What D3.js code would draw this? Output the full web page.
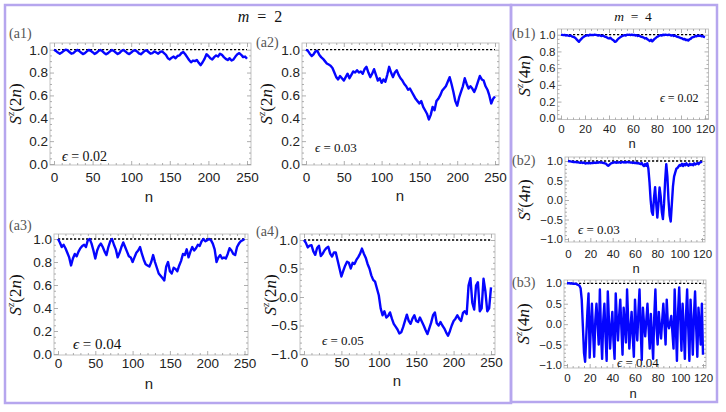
<!DOCTYPE html>
<html><head><meta charset="utf-8">
<script src="https://cdn.jsdelivr.net/npm/d3@7/dist/d3.min.js"></script>
<style>html,body{margin:0;padding:0;background:#fff;}svg{display:block;}</style>
</head><body>
<svg id="chart" width="726" height="412" xmlns="http://www.w3.org/2000/svg"></svg>
<script>
// ---------------- data ----------------
const nStepA = 2.5, nMaxA = 250;   // m = 2 panels: n sampled every 2.5
const nStepB = 1,   nMaxB = 120;   // m = 4 panels: integer n
const xTicksA = [0, 50, 100, 150, 200, 250];
const xTicksB = [0, 20, 40, 60, 80, 100, 120];
const yTicksUnit = [0, 0.2, 0.4, 0.6, 0.8, 1.0];
const yTicksSym = [-1, -0.5, 0, 0.5, 1];
const epsA = ['0.02', '0.03', '0.04', '0.05'];
const epsB = ['0.02', '0.03', '0.04'];
const titles = ['m', '2', '4'];

const a1Vals = [
 1.0, 0.99, 0.975, 0.965, 0.975, 0.99, 1.0, 0.995, 0.98, 0.965,
 0.97, 0.985, 0.998, 0.99, 0.975, 0.962, 0.97, 0.985, 0.998, 0.99,
 0.978, 0.963, 0.972, 0.988, 0.998, 0.988, 0.972, 0.96, 0.97, 0.985,
 0.997, 0.99, 0.975, 0.962, 0.972, 0.99, 0.997, 0.985, 0.97, 0.962,
 0.975, 0.99, 0.996, 0.985, 0.968, 0.96, 0.975, 0.99, 0.995, 0.98,
 0.965, 0.97, 0.985, 0.975, 0.965, 0.98, 0.985, 0.97, 0.955, 0.925,
 0.915, 0.93, 0.94, 0.925, 0.945, 0.95, 0.97, 0.98, 0.96, 0.935,
 0.91, 0.89, 0.905, 0.9, 0.91, 0.885, 0.865, 0.89, 0.92, 0.96,
 0.945, 0.925, 0.915, 0.935, 0.95, 0.94, 0.965, 0.955, 0.935, 0.92,
 0.91, 0.925, 0.905, 0.915, 0.94, 0.96, 0.97, 0.955, 0.935, 0.94,
 0.92];
const a2Vals = [
 1.0, 0.99, 0.965, 0.945, 0.96, 0.985, 0.99, 0.955, 0.935, 0.92,
 0.9, 0.88, 0.87, 0.86, 0.84, 0.8, 0.76, 0.74, 0.77, 0.75,
 0.73, 0.76, 0.79, 0.75, 0.78, 0.81, 0.8, 0.82, 0.8, 0.81,
 0.79, 0.83, 0.85, 0.8, 0.76, 0.79, 0.83, 0.78, 0.73, 0.75,
 0.71, 0.74, 0.72, 0.78, 0.85, 0.8, 0.76, 0.8, 0.82, 0.78,
 0.75, 0.73, 0.7, 0.68, 0.65, 0.66, 0.63, 0.6, 0.57, 0.55,
 0.53, 0.55, 0.5, 0.47, 0.44, 0.39, 0.43, 0.5, 0.47, 0.55,
 0.57, 0.6, 0.64, 0.66, 0.68, 0.72, 0.76, 0.7, 0.63, 0.55,
 0.51, 0.58, 0.63, 0.68, 0.75, 0.7, 0.66, 0.68, 0.66, 0.63,
 0.67, 0.72, 0.77, 0.74, 0.73, 0.68, 0.65, 0.6, 0.53, 0.57,
 0.59];
const a3Vals = [
 1.0, 0.97, 0.93, 0.95, 0.92, 0.88, 0.84, 0.77, 0.83, 0.87,
 0.85, 0.89, 0.92, 0.94, 0.95, 0.93, 0.99, 1.0, 0.96, 0.9,
 0.83, 0.9, 0.94, 0.96, 0.93, 0.89, 0.86, 0.93, 0.98, 1.0,
 0.95, 0.91, 0.84, 0.88, 0.93, 0.97, 0.93, 0.89, 0.85, 0.84,
 0.8, 0.84, 0.88, 0.9, 0.93, 0.87, 0.82, 0.78, 0.77, 0.76,
 0.8, 0.86, 0.8, 0.75, 0.7, 0.68, 0.66, 0.64, 0.76, 0.8,
 0.72, 0.7, 0.75, 0.74, 0.72, 0.77, 0.81, 0.87, 0.86, 0.91,
 0.84, 0.89, 0.93, 0.9, 0.92, 0.95, 0.94, 0.98, 1.0, 0.98,
 0.99, 1.0, 0.99, 0.96, 0.91, 0.8, 0.84, 0.86, 0.83, 0.84,
 0.83, 0.87, 0.92, 0.9, 0.87, 0.86, 0.93, 0.96, 0.98, 0.99,
 1.0];
const a4Vals = [
 1.0, 0.95, 0.87, 0.9, 0.91, 0.8, 0.74, 0.86, 0.9, 0.72,
 0.76, 0.82, 0.86, 0.88, 0.76, 0.71, 0.78, 0.78, 0.64, 0.5,
 0.36, 0.46, 0.55, 0.62, 0.6, 0.5, 0.6, 0.58, 0.65, 0.7,
 0.76, 0.85, 0.76, 0.69, 0.58, 0.5, 0.38, 0.3, 0.27, 0.15,
 0.03, -0.2, -0.32, -0.25, -0.36, -0.33, -0.27, -0.38, -0.47, -0.52,
 -0.57, -0.64, -0.62, -0.53, -0.42, -0.31, -0.42, -0.47, -0.38, -0.32,
 -0.42, -0.44, -0.36, -0.43, -0.5, -0.58, -0.65, -0.55, -0.45, -0.32,
 -0.27, -0.46, -0.5, -0.44, -0.5, -0.55, -0.62, -0.68, -0.6, -0.5,
 -0.42, -0.38, -0.32, -0.38, -0.42, -0.28, -0.25, -0.3, 0.2, 0.33,
 -0.1, -0.22, 0.2, 0.26, -0.25, -0.2, 0.32, 0.1, -0.25, -0.2,
 0.17];
const b1Vals = [
 1.0, 0.998, 0.995, 0.997, 0.99, 0.995, 0.99, 0.985, 0.99, 0.98,
 0.975, 0.97, 0.96, 0.945, 0.93, 0.915, 0.935, 0.95, 0.965, 0.975,
 0.985, 0.99, 0.995, 0.99, 1.0, 0.995, 0.998, 0.995, 1.0, 0.998,
 0.995, 0.99, 0.995, 0.988, 0.985, 0.99, 0.98, 0.975, 0.97, 0.96,
 0.955, 0.965, 0.95, 0.94, 0.93, 0.915, 0.92, 0.94, 0.955, 0.965,
 0.975, 0.985, 0.99, 0.995, 0.99, 1.0, 0.998, 1.0, 0.996, 1.0,
 0.995, 0.998, 0.99, 0.995, 0.985, 0.99, 0.98, 0.975, 0.97, 0.965,
 0.955, 0.96, 0.945, 0.935, 0.925, 0.94, 0.92, 0.935, 0.95, 0.96,
 0.975, 0.98, 0.99, 0.995, 0.99, 1.0, 0.995, 1.0, 0.998, 0.995,
 1.0, 0.995, 0.99, 0.995, 0.985, 0.99, 0.98, 0.975, 0.97, 0.965,
 0.96, 0.955, 0.945, 0.95, 0.935, 0.94, 0.93, 0.945, 0.95, 0.965,
 0.97, 0.975, 0.985, 0.98, 0.99, 0.985, 0.99, 0.98, 0.985, 0.975,
 0.97];
const b2Vals = [
 1.0, 0.995, 0.99, 0.985, 0.98, 0.975, 0.97, 0.975, 0.965, 0.97,
 0.96, 0.955, 0.965, 0.95, 0.96, 0.945, 0.935, 0.95, 0.94, 0.955,
 0.94, 0.95, 0.945, 0.955, 0.96, 0.95, 0.965, 0.955, 0.97, 0.96,
 0.965, 0.955, 0.95, 0.94, 0.93, 0.9, 0.88, 0.9, 0.93, 0.945,
 0.955, 0.96, 0.97, 0.955, 0.965, 0.96, 0.97, 0.955, 0.965, 0.975,
 0.96, 0.97, 0.96, 0.975, 0.965, 0.97, 0.96, 0.965, 0.95, 0.96,
 0.945, 0.955, 0.94, 0.95, 0.93, 0.92, 0.95, 0.9, 0.87, 0.92,
 0.88, 0.94, 0.8, 0.45, 0.0, -0.3, -0.38, 0.05, 0.33, -0.1,
 -0.45, -0.1, 0.32, 0.1, -0.3, -0.49, -0.1, 0.5, 0.92, 0.6,
 0.0, -0.4, -0.55, -0.1, 0.35, 0.6, 0.7, 0.8, 0.82, 0.86,
 0.9, 0.88, 0.93, 0.87, 0.92, 0.89, 0.94, 0.9, 0.88, 0.93,
 0.9, 0.92, 0.89, 0.94, 0.91, 0.93, 0.95, 0.92, 0.96, 0.97,
 0.99];
const b3Vals = [
 1.0, 1.0, 1.0, 0.995, 1.0, 0.99, 0.995, 0.985, 0.99, 0.97,
 0.96, 0.94, 0.88, 0.6, -0.05, -0.7, -0.92, -0.3, 0.3, 0.75,
 -0.82, -0.1, 0.5, -0.2, -0.8, 0.1, 0.5, 0.0, -0.5, 0.85,
 -0.2, -0.85, 0.1, 0.5, -0.3, -0.9, 0.8, 0.1, -0.6, -0.1,
 0.3, -0.4, -0.85, 0.75, 0.1, -0.4, 0.2, 0.6, -0.1, -0.75,
 0.4, 0.0, -0.45, 0.85, 0.1, -0.6, -0.1, 0.3, -0.3, -0.8,
 0.6, 0.0, -0.4, 0.3, 0.85, -0.1, -0.88, 0.4, 0.0, -0.3,
 0.1, 0.5, -0.1, -0.6, 0.25, -0.3, -0.85, 0.2, 0.85, -0.1,
 -0.5, 0.3, -0.1, -0.35, 0.1, 0.5, 0.0, -0.5, 0.6, 0.0,
 -0.1, 0.05, 0.2, -0.2, -0.6, 0.85, 0.0, -0.9, 0.3, 0.9,
 0.1, -0.65, 0.5, -0.1, -0.85, 0.2, 0.85, -0.1, -0.9, 0.6,
 0.0, -0.75, 0.2, 0.8, -0.1, -0.8, 0.4, 0.0, -0.5, 0.5,
 -0.75];

const nA = d3.range(0, nMaxA + 1e-9, nStepA);
const nB = d3.range(0, nMaxB + 1e-9, nStepB);

// ---------------- layout (positions / styles) ----------------
const BLUE = '#0505ff';
const SERIF = "'Liberation Serif','Times New Roman','DejaVu Serif',serif";
const SANS = "'Liberation Sans',Arial,sans-serif";

const panels = [
 {vals:a1Vals, ns:nA, xMax:nMaxA, xTicks:xTicksA, xMinor:10, yTicks:yTicksUnit, yMinor:0.05, yDom:[0,1],
  F:{l:50,t:43,r:251,b:165}, xr:[54,247], yr:[164,49.7], tf:13.5, xlb:182,
  lab:'(a1)', labPos:[9,38], eps:epsA[0], epsPos:[62,161], epsF:14, mul:'2', ylPos:[21,104], nPos:[149,202], nF:15},
 {vals:a2Vals, ns:nA, xMax:nMaxA, xTicks:xTicksA, xMinor:10, yTicks:yTicksUnit, yMinor:0.05, yDom:[0,1],
  F:{l:302,t:43,r:499,b:165}, xr:[306,495], yr:[164,49.7], tf:13.5, xlb:182,
  lab:'(a2)', labPos:[256,47], eps:epsA[1], epsPos:[315,152], epsF:13, mul:'2', ylPos:[272,104], nPos:[400,201], nF:15},
 {vals:a3Vals, ns:nA, xMax:nMaxA, xTicks:xTicksA, xMinor:10, yTicks:yTicksUnit, yMinor:0.05, yDom:[0,1],
  F:{l:54,t:234,r:248,b:355}, xr:[58,244.5], yr:[354,239], tf:13.5, xlb:368,
  lab:'(a3)', labPos:[9,230], eps:epsA[2], epsPos:[73,349], epsF:15, mul:'2', ylPos:[21,295], nPos:[149,389], nF:15},
 {vals:a4Vals, ns:nA, xMax:nMaxA, xTicks:xTicksA, xMinor:10, yTicks:yTicksSym, yMinor:0.1, yDom:[-1,1],
  F:{l:300,t:234,r:495,b:355}, xr:[304,491], yr:[354,240], tf:13.5, xlb:367,
  lab:'(a4)', labPos:[256,236], eps:epsA[3], epsPos:[322,345], epsF:13, mul:'2', ylPos:[276,295], nPos:[397,386], nF:15},
 {vals:b1Vals, ns:nB, xMax:nMaxB, xTicks:xTicksB, xMinor:5, yTicks:yTicksUnit, yMinor:0.05, yDom:[0,1],
  F:{l:557.5,t:29,r:708.5,b:119.5}, xr:[561,705], yr:[118.3,34.7], tf:11.5, xlb:133,
  lab:'(b1)', labPos:[512,38], eps:epsB[0], epsPos:[660,102], epsF:12, mul:'4', ylPos:[530,76], nPos:[632,148], nF:13},
 {vals:b2Vals, ns:nB, xMax:nMaxB, xTicks:xTicksB, xMinor:5, yTicks:yTicksSym, yMinor:0.1, yDom:[-1,1],
  F:{l:565,t:157,r:705,b:242}, xr:[568,702], yr:[239,161], tf:11.5, xlb:258,
  lab:'(b2)', labPos:[512,165], eps:epsB[1], epsPos:[578,234], epsF:13, mul:'4', ylPos:[530,200], nPos:[636,273], nF:13},
 {vals:b3Vals, ns:nB, xMax:nMaxB, xTicks:xTicksB, xMinor:5, yTicks:yTicksSym, yMinor:0.1, yDom:[-1,1],
  F:{l:564,t:280,r:706,b:368}, xr:[567,703], yr:[365,283.3], tf:11.5, xlb:382,
  lab:'(b3)', labPos:[512,287], eps:epsB[2], epsPos:[617,367], epsF:13, mul:'4', ylPos:[529,324], nPos:[633,398], nF:13}
];

const svg = d3.select('#chart');
svg.append('rect').attr('width',726).attr('height',412).attr('fill','#fff');

// outer boxes
const BORDER = '#b6a6ee';
svg.append('rect').attr('x',5).attr('y',5).attr('width',506).attr('height',398)
  .attr('fill','none').attr('stroke',BORDER).attr('stroke-width',2.5);
svg.append('rect').attr('x',511).attr('y',5).attr('width',206).attr('height',397)
  .attr('fill','none').attr('stroke',BORDER).attr('stroke-width',2.5);

// titles
function title(cx, base, num, fs) {
  const t = svg.append('text').attr('x',cx).attr('y',base).attr('text-anchor','middle')
    .attr('font-family',SERIF).attr('font-size',fs).attr('fill','#111');
  t.append('tspan').attr('font-style','italic').text(titles[0]);
  t.append('tspan').text('\u2002=\u2002' + num);
}
title(260, 22, titles[1], 16);
title(633, 21, titles[2], 13.5);

function styleAxis(g, fs) {
  g.select('.domain').remove();
  g.selectAll('.tick line').attr('stroke','#9a9a9a').attr('stroke-width',0.8);
  g.selectAll('.tick text').attr('font-family',SANS).attr('font-size',fs).attr('fill','#222');
}

panels.forEach(p => {
  const F = p.F;
  const g = svg.append('g');
  const x = d3.scaleLinear().domain([0, p.xMax]).range(p.xr);
  const y = d3.scaleLinear().domain(p.yDom).range(p.yr);
  const fmtY = d3.format('.1f');

  // frame
  g.append('rect').attr('x',F.l).attr('y',F.t).attr('width',F.r-F.l).attr('height',F.b-F.t)
    .attr('fill','none').attr('stroke','#bdbdbd').attr('stroke-width',0.9);

  const minorX = d3.range(0, p.xMax + 1e-9, p.xMinor).filter(v => !p.xTicks.includes(v));
  const minorY = d3.range(p.yDom[0], p.yDom[1] + 1e-9, p.yMinor)
      .filter(v => !p.yTicks.some(t => Math.abs(t - v) < 1e-6));

  // major bottom (labels)
  const gb = g.append('g').attr('transform',`translate(0,${F.b})`)
    .call(d3.axisBottom(x).tickValues(p.xTicks).tickSize(-4).tickSizeOuter(0).tickFormat(d3.format('d')));
  styleAxis(gb, p.tf);
  gb.selectAll('.tick text').attr('y', p.xlb - F.b).attr('dy', 0);
  // minor bottom
  styleAxis(g.append('g').attr('transform',`translate(0,${F.b})`)
    .call(d3.axisBottom(x).tickValues(minorX).tickSize(-2).tickSizeOuter(0).tickFormat('')), p.tf);
  // top mirror
  styleAxis(g.append('g').attr('transform',`translate(0,${F.t})`)
    .call(d3.axisTop(x).tickValues(p.xTicks).tickSize(-4).tickSizeOuter(0).tickFormat('')), p.tf);
  styleAxis(g.append('g').attr('transform',`translate(0,${F.t})`)
    .call(d3.axisTop(x).tickValues(minorX).tickSize(-2).tickSizeOuter(0).tickFormat('')), p.tf);
  // left (labels)
  const gl = g.append('g').attr('transform',`translate(${F.l},0)`)
    .call(d3.axisLeft(y).tickValues(p.yTicks).tickSize(-4).tickSizeOuter(0).tickPadding(2).tickFormat(fmtY));
  styleAxis(gl, p.tf);
  styleAxis(g.append('g').attr('transform',`translate(${F.l},0)`)
    .call(d3.axisLeft(y).tickValues(minorY).tickSize(-2).tickSizeOuter(0).tickFormat('')), p.tf);
  // right mirror
  styleAxis(g.append('g').attr('transform',`translate(${F.r},0)`)
    .call(d3.axisRight(y).tickValues(p.yTicks).tickSize(-4).tickSizeOuter(0).tickFormat('')), p.tf);
  styleAxis(g.append('g').attr('transform',`translate(${F.r},0)`)
    .call(d3.axisRight(y).tickValues(minorY).tickSize(-2).tickSizeOuter(0).tickFormat('')), p.tf);

  // reference dashed line at 1
  g.append('line').attr('x1',x(0)).attr('x2',x(p.xMax)).attr('y1',y(1)).attr('y2',y(1))
    .attr('stroke','#000').attr('stroke-width',1.3).attr('stroke-dasharray','2.2,1.8');

  // data line
  const line = d3.line().x((d,i) => x(p.ns[i])).y(d => y(d));
  g.append('path').datum(p.vals).attr('d',line).attr('fill','none')
    .attr('stroke',BLUE).attr('stroke-width',2.4).attr('stroke-linejoin','round');

  // panel label
  g.append('text').attr('x',p.labPos[0]).attr('y',p.labPos[1]).attr('font-family',SERIF)
    .attr('font-size',14).attr('fill','#555').text(p.lab);

  // epsilon label
  const e = g.append('text').attr('x',p.epsPos[0]).attr('y',p.epsPos[1]).attr('font-family',SERIF)
    .attr('font-size',p.epsF).attr('fill','#111');
  e.append('tspan').attr('font-style','italic').text('\u03F5');
  e.append('tspan').text(' = ' + p.eps);

  // y label S^z(mn)
  const t = g.append('text').attr('transform',`translate(${p.ylPos[0]},${p.ylPos[1]}) rotate(-90)`)
    .attr('text-anchor','middle').attr('font-family',SERIF).attr('font-size',17).attr('fill','#111');
  t.append('tspan').attr('font-style','italic').text('S');
  t.append('tspan').attr('font-style','italic').attr('font-size',11).attr('dy',-7).text('z');
  t.append('tspan').attr('dy',7).text('(' + p.mul);
  t.append('tspan').attr('font-style','italic').text('n');
  t.append('tspan').text(')');

  // x label
  g.append('text').attr('x',p.nPos[0]).attr('y',p.nPos[1]).attr('text-anchor','middle')
    .attr('font-family',SANS).attr('font-size',p.nF).attr('fill','#222').text('n');
});
</script>
</body></html>
